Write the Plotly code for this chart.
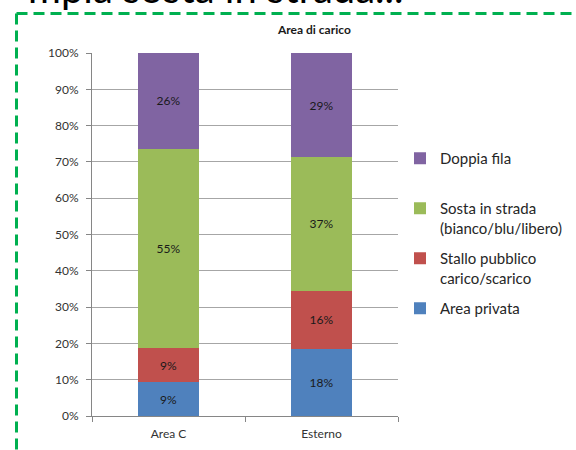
import plotly.graph_objects as go

categories = ["Area C", "Esterno"]
series_names = ["Area privata", "Stallo pubblico<br>carico/scarico",
                "Sosta in strada<br>(bianco/blu/libero)", "Doppia fila<br> "]
area_privata = [9.3, 18.4]
stallo = [9.4, 16.1]
sosta = [54.9, 36.8]
doppia = [26.4, 28.7]
values = [area_privata, stallo, sosta, doppia]
colors = ["#4F81BD", "#C0504D", "#9BBB59", "#8064A2"]
y_ticks = [0, 10, 20, 30, 40, 50, 60, 70, 80, 90, 100]
y_tick_labels = ["0%", "10%", "20%", "30%", "40%", "50%", "60%", "70%", "80%", "90%", "100%"]
chart_title = "Area di carico"
slide_text = "mpia sosta in strada..."

FONT = "Lato, 'Open Sans', sans-serif"

fig = go.Figure()
n = len(series_names)
for i, (name, vals, col) in enumerate(zip(series_names, values, colors)):
    fig.add_trace(go.Bar(
        x=categories, y=vals, name=name, legendgroup=f"g{i}",
        legendrank=n - i,
        marker=dict(color=col, line=dict(width=0)),
        texttemplate="%{y:.0f}%", textposition="inside",
        insidetextanchor="middle",
        textfont=dict(size=12, color="#1a1a1a", family=FONT),
        hoverinfo="skip",
    ))

W, H = 576, 450
L, R, T, B = 92, 178, 53, 34
pw, ph = W - L - R, H - T - B

def fx(px):
    return (px - L) / pw

def fy(py):
    return 1 - (py - T) / ph

fig.update_layout(
    width=W, height=H,
    margin=dict(l=L, r=R, t=T, b=B, pad=0, autoexpand=False),
    paper_bgcolor="white", plot_bgcolor="white",
    barmode="stack", bargap=0.6,
    font=dict(family=FONT, color="#333333"),
    showlegend=True,
    legend=dict(
        x=fx(400), xanchor="left", y=fy(142), yanchor="top",
        traceorder="grouped", tracegroupgap=8,
        valign="top", font=dict(size=15, color="#262626", family=FONT),
        bgcolor="rgba(0,0,0,0)", itemclick=False,
    ),
    xaxis=dict(
        showline=True, linecolor="#868686", linewidth=1,
        ticks="outside", tickson="boundaries", ticklen=5, tickcolor="#868686",
        ticklabelstandoff=7,
        tickfont=dict(size=12, color="#333333", family=FONT),
        showgrid=False, fixedrange=True,
    ),
    yaxis=dict(
        range=[0, 100], tickmode="array", tickvals=y_ticks, ticktext=y_tick_labels,
        showline=True, linecolor="#868686", linewidth=1,
        ticks="outside", ticklen=5, tickcolor="#868686",
        ticklabelstandoff=5,
        showgrid=True, gridcolor="#A6A6A6", gridwidth=1,
        tickfont=dict(size=12, color="#333333", family=FONT),
        zeroline=False, fixedrange=True,
    ),
    annotations=[
        dict(text="<b>" + chart_title + "</b>", xref="paper", yref="paper",
             x=fx(314), y=fy(30), xanchor="center", yanchor="middle",
             showarrow=False, font=dict(size=12, color="#1a1a1a", family=FONT)),
        dict(text=slide_text, xref="paper", yref="paper",
             x=fx(26), y=fy(14), xanchor="left", yanchor="bottom",
             showarrow=False, font=dict(size=40, color="#000000", family=FONT)),
    ],
    shapes=[
        dict(type="line", xref="paper", yref="paper",
             x0=fx(16.5), x1=fx(590), y0=fy(13.5), y1=fy(13.5),
             line=dict(color="#00B050", width=3, dash="11px,6px")),
        dict(type="line", xref="paper", yref="paper",
             x0=fx(16.5), x1=fx(16.5), y0=fy(13.5), y1=fy(460),
             line=dict(color="#00B050", width=3, dash="11px,6px")),
    ],
)

fig.write_html("out.html", config={"displayModeBar": False},
               post_script="document.body.style.margin='0px';")
